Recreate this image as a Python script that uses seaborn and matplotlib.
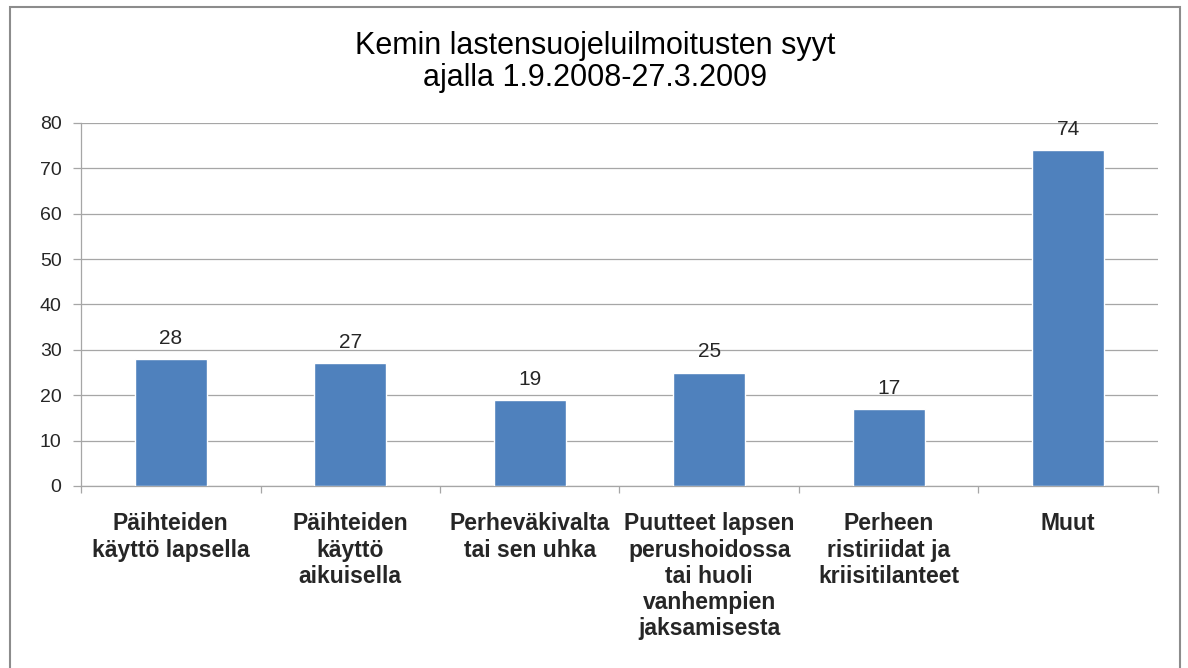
import matplotlib
matplotlib.use("Agg")
import matplotlib.pyplot as plt
import seaborn as sns
import numpy as np
from matplotlib.patches import Rectangle

# syyt ja ilmoitusten määrät
syyt = [
    "Päihteiden\nkäyttö lapsella",
    "Päihteiden\nkäyttö\naikuisella",
    "Perheväkivalta\ntai sen uhka",
    "Puutteet lapsen\nperushoidossa\ntai huoli\nvanhempien\njaksamisesta",
    "Perheen\nristiriidat ja\nkriisitilanteet",
    "Muut",
]
maarat = [28, 27, 19, 25, 17, 74]
y_ticks = [0, 10, 20, 30, 40, 50, 60, 70, 80]

sns.set_style("white")
plt.rcParams["font.family"] = ["Liberation Sans", "DejaVu Sans"]

fig = plt.figure(figsize=(11.88, 6.68), dpi=100)
ax = fig.add_axes([0.0682, 0.2725, 0.9065, 0.5434])

sns.barplot(x=syyt, y=maarat, color="#4F81BD", width=0.4, saturation=1, ax=ax, zorder=3)

ax.set_ylim(0, 80)
ax.set_yticks(y_ticks)
ax.set_xlim(-0.5, len(syyt) - 0.5)
ax.yaxis.grid(True, color="#A6A6A6", linewidth=0.9, zorder=0)
ax.xaxis.grid(False)

for s in ["top", "right"]:
    ax.spines[s].set_visible(False)
for s in ["left", "bottom"]:
    ax.spines[s].set_color("#A6A6A6")
    ax.spines[s].set_linewidth(0.9)

# arvot pylväiden päälle
ax.bar_label(ax.containers[0], padding=8, fontsize=15, color="#262626")

# y-akseli
ax.tick_params(axis="y", length=6, width=0.9, color="#A6A6A6", pad=8,
               labelsize=14, labelcolor="#262626", left=True)

# x-akselin jakoviivat luokkien väliin
ax.set_xticks(np.arange(len(syyt)))
ax.set_xticklabels(syyt, fontsize=16.5, fontweight="bold", linespacing=1.18)
ax.set_xticks(np.arange(-0.5, len(syyt)), minor=True)
ax.tick_params(axis="x", which="major", length=0, pad=19)
ax.tick_params(axis="x", which="minor", length=5, width=0.9, color="#A6A6A6", bottom=True)
ax.set_xlabel("")
ax.set_ylabel("")

fig.text(0.5008, 1 - 62 / 668, "Kemin lastensuojeluilmoitusten syyt\najalla 1.9.2008-27.3.2009",
         ha="center", va="center", fontsize=22, linespacing=1.08, color="black")

# kehys kuvion ympärille
fig.patches.append(Rectangle((10 / 1188, -0.05), 1170 / 1188, 1 - 7 / 668 + 0.05,
                             transform=fig.transFigure, fill=False,
                             edgecolor="#8C8C8C", linewidth=1.5))

fig.savefig("out.png", dpi=100)
